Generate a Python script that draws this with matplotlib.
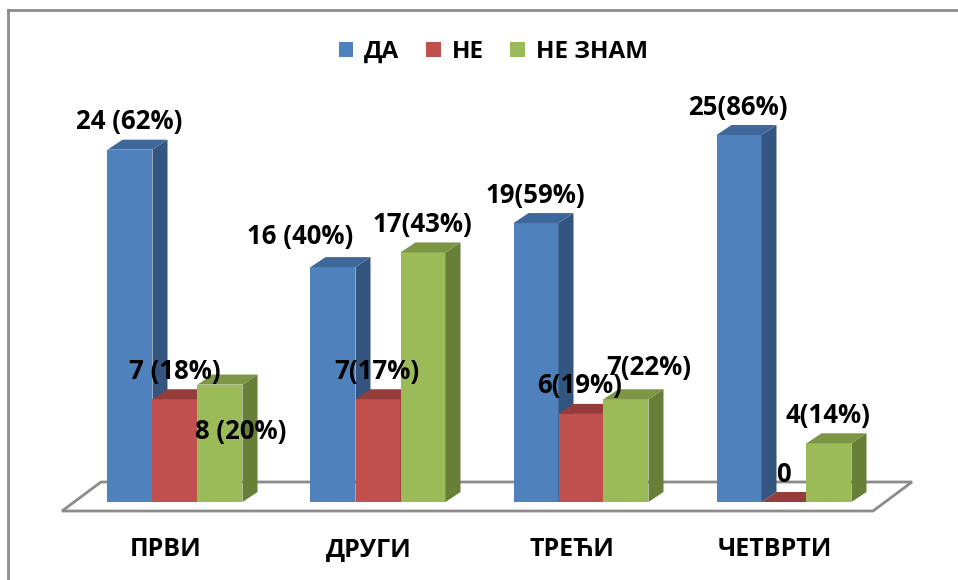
import matplotlib
matplotlib.use("Agg")
import matplotlib.pyplot as plt
from matplotlib.patches import Polygon, Patch
from matplotlib.lines import Line2D
import numpy as np

plt.rcParams['font.family'] = ['Open Sans', 'DejaVu Sans']

# data
categories = ["ПРВИ", "ДРУГИ", "ТРЕЋИ", "ЧЕТВРТИ"]
series = ["ДА", "НЕ", "НЕ ЗНАМ"]
da = [24, 16, 19, 25]
ne = [7, 7, 6, 0]
ne_znam = [8, 17, 7, 4]
da_labels = ["24 (62%)", "16 (40%)", "19(59%)", "25(86%)"]
ne_labels = ["7 (18%)", "7(17%)", "6(19%)", "0"]
ne_znam_labels = ["8 (20%)", "17(43%)", "7(22%)", "4(14%)"]

# style
front = ["#4F81BD", "#C0504D", "#9BBB59"]
side = ["#34557F", "#8A3533", "#687F37"]
top = ["#3E679A", "#963D3B", "#7C9646"]

W, H = 958, 580
fig = plt.figure(figsize=(W / 100, H / 100), dpi=100)
ax = fig.add_axes([0, 0, 1, 1])

# pixel scale -> data scale
px_x = 203.0          # pixels per category
px_y = 14.68          # pixels per unit
x0_px, y0_px = 175, 502
ax.set_xlim(-x0_px / px_x, (W - x0_px) / px_x)
ax.set_ylim(-(H - y0_px) / px_y, y0_px / px_y)
ax.axis("off")

bw = 45 / px_x
ddx, ddy = 15 / px_x, 10 / px_y

# floor
fl_front, fl_back = -9 / px_y, 20 / px_y
floor = Polygon([(-113 / px_x, fl_front), (698 / px_x, fl_front),
                 (737 / px_x, fl_back), (-74 / px_x, fl_back)],
                closed=True, facecolor="white", edgecolor="#8C8C8C", lw=2, zorder=1)
ax.add_patch(floor)

x = np.arange(len(categories))
values = [da, ne, ne_znam]
labels = [da_labels, ne_labels, ne_znam_labels]

# label offsets in pixels (dx, dy up) from top centre of front face
offsets = {
    (0, 1): (0, 28), (0, 2): (21, -47),
    (1, 0): (-33, 31), (2, 2): (23, 32),
}

z = 2
for s in range(3):
    for i, g in enumerate(x):
        xc = g + (s - 1) * bw
        v = values[s][i]
        ax.bar(xc, v, width=bw, color=front[s], zorder=z, linewidth=0)
        xr = xc + bw / 2
        xl = xc - bw / 2
        ax.add_patch(Polygon([(xr, 0), (xr + ddx, ddy), (xr + ddx, v + ddy), (xr, v)],
                             closed=True, facecolor=side[s], lw=0, zorder=z))
        ax.add_patch(Polygon([(xl, v), (xr, v), (xr + ddx, v + ddy), (xl + ddx, v + ddy)],
                             closed=True, facecolor=top[s], lw=0, zorder=z))
    z += 1

for s in range(3):
    for i, g in enumerate(x):
        xc = g + (s - 1) * bw
        v = values[s][i]
        odx, ody = offsets.get((i, s), (-1, 28))
        ax.text(xc + odx / px_x, v + ody / px_y, labels[s][i], ha="center", va="center",
                fontsize=18.5, fontweight="bold", color="black", zorder=10)

for i, g in enumerate(x):
    ax.text(g - 9 / px_x, -48 / px_y, categories[i], ha="center", va="center",
            fontsize=18, fontweight="bold", color="black")

handles = [Patch(facecolor=front[s], edgecolor="none") for s in range(3)]
fig.legend(handles, series, ncol=3, loc="center", bbox_to_anchor=(0.515, 0.910),
           frameon=False, handlelength=0.6, handleheight=0.6, handletextpad=0.45,
           columnspacing=1.1, prop={"weight": "bold", "size": 17.5})

# outer border (top and left only)
fig.add_artist(Line2D([8 / W, 1], [1 - 10 / H, 1 - 10 / H], color="#8C8C8C", lw=2))
fig.add_artist(Line2D([8 / W, 8 / W], [0, 1 - 10 / H], color="#8C8C8C", lw=2))

fig.savefig("out.png", dpi=100)
